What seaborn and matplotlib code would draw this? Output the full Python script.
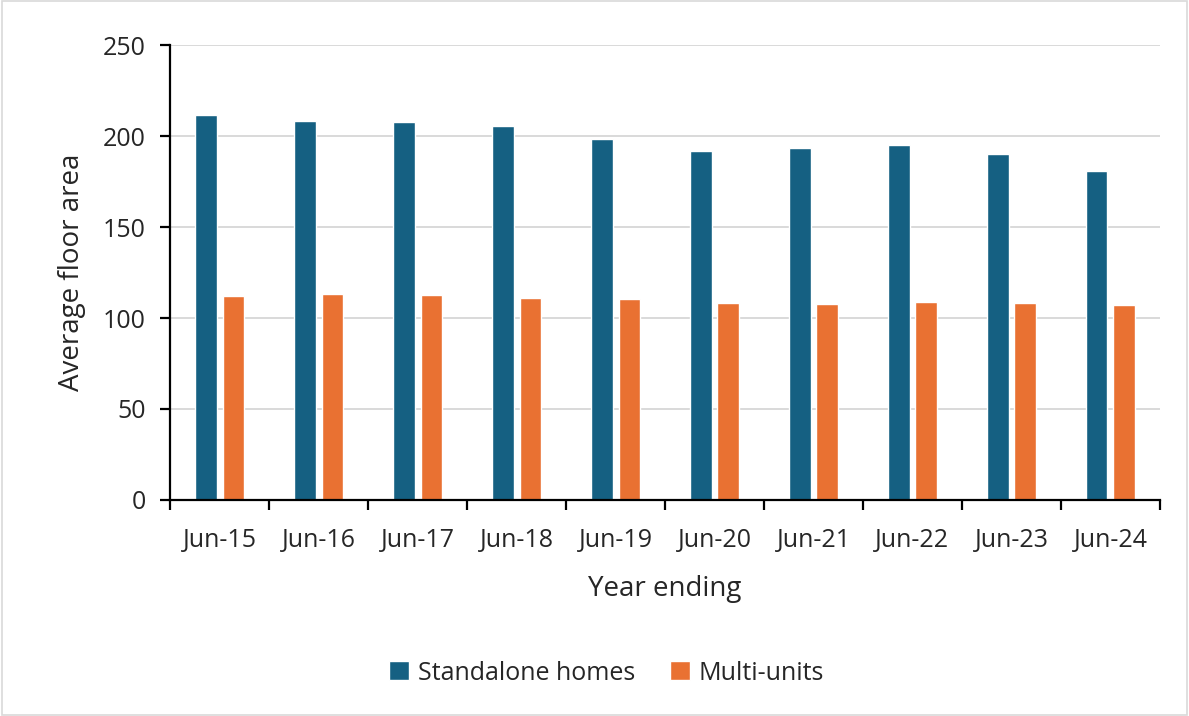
import numpy as np
import pandas as pd
import seaborn as sns
from matplotlib import pyplot as plt
from matplotlib.patches import Rectangle
from matplotlib.ticker import FixedLocator

years = ['Jun-15', 'Jun-16', 'Jun-17', 'Jun-18', 'Jun-19',
         'Jun-20', 'Jun-21', 'Jun-22', 'Jun-23', 'Jun-24']
standalone = [211.5, 208.2, 207.7, 205.5, 198.4, 191.8, 193.4, 195.0, 190.0, 180.6]
multi_units = [112.0, 113.0, 112.5, 111.0, 110.4, 108.2, 107.7, 109.0, 108.0, 107.0]
series_names = ['Standalone homes', 'Multi-units']
y_ticks = [0, 50, 100, 150, 200, 250]

df = pd.DataFrame({
    'year': years * 2,
    'value': standalone + multi_units,
    'type': [series_names[0]] * len(years) + [series_names[1]] * len(years),
})

sns.set_theme(style='white')
plt.rcParams['font.family'] = ['Open Sans', 'DejaVu Sans']

fig = plt.figure(figsize=(11.89, 7.16), dpi=100)
ax = fig.add_axes([0.143, 0.3017, 0.8326, 0.6354])

palette = {series_names[0]: '#156082', series_names[1]: '#e97132'}
sns.barplot(data=df, x='year', y='value', hue='type', palette=palette,
            width=0.565, gap=0.214, ax=ax, saturation=1, legend=True)

ax.set_ylim(0, 250)
ax.set_xlim(-0.5, len(years) - 0.5)
ax.set_yticks(y_ticks)
ax.yaxis.grid(True, color='#d9d9d9', linewidth=1.4)
ax.set_axisbelow(True)

for s in ['top', 'right']:
    ax.spines[s].set_visible(False)
ax.spines['left'].set_color('black')
ax.spines['left'].set_linewidth(1.6)
ax.spines['bottom'].set_color('black')
ax.spines['bottom'].set_linewidth(1.6)

ax.tick_params(axis='y', which='major', direction='out', length=7.5, width=1.6,
               color='black', labelsize=18, pad=10, left=True)
ax.tick_params(axis='x', which='major', length=0, labelsize=18, pad=20)
ax.xaxis.set_minor_locator(FixedLocator(np.arange(-0.5, len(years), 1.0)))
ax.tick_params(axis='x', which='minor', direction='out', length=7.5, width=1.6,
               color='black', bottom=True)

ax.set_xlabel('Year ending', fontsize=20, labelpad=16)
ax.set_ylabel('Average floor area', fontsize=20, labelpad=12)

handles, labels = ax.get_legend_handles_labels()
ax.legend_.remove()
fig.legend(handles, labels, loc='center', bbox_to_anchor=(0.51, 0.06), ncol=2,
           frameon=False, fontsize=18, handlelength=0.8, handleheight=0.8,
           columnspacing=1.4, handletextpad=0.35)

fig.patches.append(Rectangle((0.002, 0.002), 0.996, 0.996, transform=fig.transFigure,
                             fill=False, edgecolor='#d9d9d9', linewidth=1.2))

fig.savefig('out.png', dpi=100)
